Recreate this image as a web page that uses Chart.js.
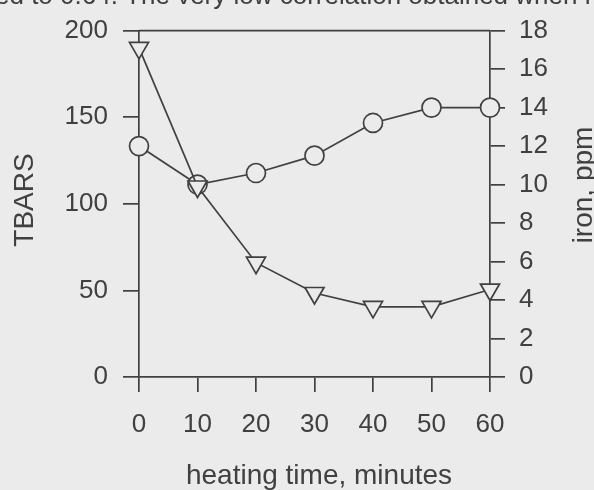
<!DOCTYPE html>
<html>
<head>
<meta charset="utf-8">
<script src="https://cdn.jsdelivr.net/npm/chart.js@4.4.1/dist/chart.umd.min.js"></script>
<style>
  html, body { margin: 0; padding: 0; background: #ebebeb; }
  #wrap { position: relative; width: 594px; height: 490px; overflow: hidden; }
  canvas { display: block; }
</style>
</head>
<body>
<div id="wrap"><canvas id="chart" width="594" height="490"></canvas></div>
<script>
const heatingTimes = [0, 10, 20, 30, 40, 50, 60];
const tbarsValues = [190, 110, 66, 48.5, 40.5, 40.5, 50.5];
const ironValues = [12, 10, 10.6, 11.5, 13.2, 14, 14];
const tbarsTicks = [0, 50, 100, 150, 200];
const ironTicks = [0, 2, 4, 6, 8, 10, 12, 14, 16, 18];
const pageText = 'ed to 0.64. The very low correlation obtained when ra';

const ink = '#404040';
const paper = '#ebebeb';
const fontFamily = '"Liberation Sans", Arial, sans-serif';

// axis titles and the cut-off line of page text drawn straight onto the canvas
const titlesPlugin = {
    id: 'titles',
    afterDraw(chart) {
        const ctx = chart.ctx;
        ctx.save();
        ctx.fillStyle = ink;
        ctx.font = '28px ' + fontFamily;
        ctx.textAlign = 'center';
        ctx.textBaseline = 'alphabetic';

        ctx.save();
        ctx.translate(33, 200);
        ctx.rotate(-Math.PI / 2);
        ctx.fillText('TBARS', 0, 0);
        ctx.restore();

        ctx.save();
        ctx.translate(592, 185);
        ctx.rotate(-Math.PI / 2);
        ctx.fillText('iron, ppm', 0, 0);
        ctx.restore();

        ctx.fillText('heating time, minutes', 319, 484);

        ctx.font = '26px ' + fontFamily;
        ctx.textAlign = 'left';
        ctx.fillText(pageText, -5, 4);

        // top edge of the frame
        const a = chart.chartArea;
        ctx.strokeStyle = ink;
        ctx.lineWidth = 1.7;
        ctx.beginPath();
        ctx.moveTo(a.left, a.top);
        ctx.lineTo(a.right, a.top);
        ctx.stroke();
        ctx.restore();
    }
};

const ctx = document.getElementById('chart').getContext('2d');
new Chart(ctx, {
    type: 'line',
    data: {
        datasets: [{
            label: 'TBARS',
            data: heatingTimes.map((t, i) => ({ x: t, y: tbarsValues[i] })),
            yAxisID: 'y',
            borderColor: ink,
            borderWidth: 1.7,
            pointStyle: 'triangle',
            rotation: 180,
            pointRadius: 11,
            pointBorderWidth: 1.7,
            pointBorderColor: ink,
            pointBackgroundColor: paper,
            tension: 0,
            clip: false
        }, {
            label: 'iron, ppm',
            data: heatingTimes.map((t, i) => ({ x: t, y: ironValues[i] })),
            yAxisID: 'y2',
            borderColor: ink,
            borderWidth: 1.7,
            pointStyle: 'circle',
            pointRadius: 9.5,
            pointBorderWidth: 1.7,
            pointBorderColor: ink,
            pointBackgroundColor: paper,
            tension: 0,
            clip: false
        }]
    },
    options: {
        responsive: false,
        animation: false,
        layout: { padding: { top: 23, left: 0, right: 0, bottom: 0 } },
        plugins: {
            legend: { display: false },
            tooltip: { enabled: false }
        },
        scales: {
            x: {
                type: 'linear',
                min: 0,
                max: 60,
                z: 1,
                afterBuildTicks: s => { s.ticks = heatingTimes.map(v => ({ value: v })); },
                afterFit: s => { s.height = 113; },
                grid: { drawOnChartArea: false, tickLength: 15, color: ink, lineWidth: 1.7 },
                border: { color: ink, width: 1.7 },
                ticks: { color: ink, font: { family: fontFamily, size: 26 }, padding: 17, maxRotation: 0 }
            },
            y: {
                position: 'left',
                min: 0,
                max: 200,
                z: 1,
                afterBuildTicks: s => { s.ticks = tbarsTicks.map(v => ({ value: v })); },
                afterFit: s => { s.width = 139; },
                grid: { drawOnChartArea: false, tickLength: 16, color: ink, lineWidth: 1.7 },
                border: { color: ink, width: 1.7 },
                ticks: { color: ink, font: { family: fontFamily, size: 26 }, padding: 15 }
            },
            y2: {
                position: 'right',
                min: 0,
                max: 18,
                z: 1,
                afterBuildTicks: s => { s.ticks = ironTicks.map(v => ({ value: v })); },
                afterFit: s => { s.width = 104; },
                grid: { drawOnChartArea: false, tickLength: 15, color: ink, lineWidth: 1.7 },
                border: { color: ink, width: 1.7 },
                ticks: { color: ink, font: { family: fontFamily, size: 26 }, padding: 14 }
            }
        }
    },
    plugins: [titlesPlugin]
});
</script>
</body>
</html>
